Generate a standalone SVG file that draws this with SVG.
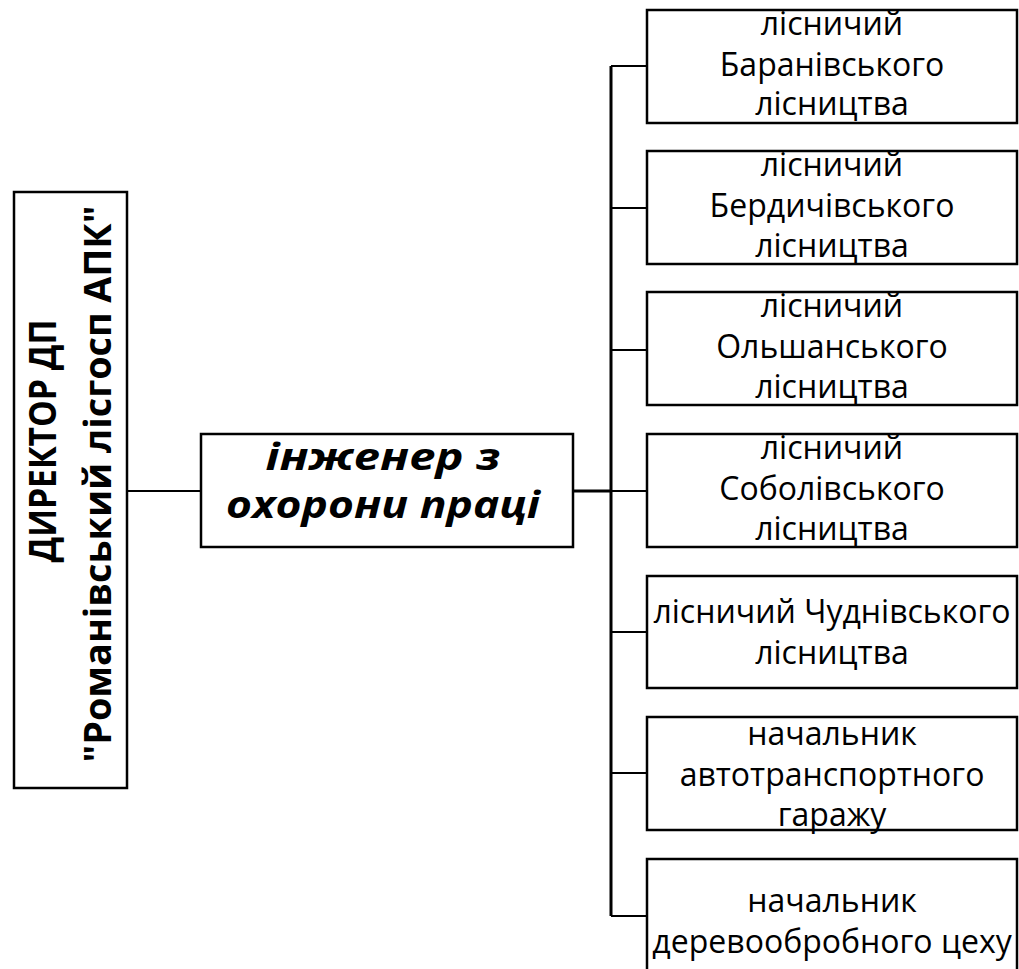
<svg xmlns="http://www.w3.org/2000/svg" width="1019" height="969" viewBox="0 0 1019 969">
<style>
.box{fill:#fff;stroke:#000;stroke-width:2.5}
.c{fill:none;stroke:#000;stroke-width:2}
.ct{fill:none;stroke:#000;stroke-width:3}
.t{font-family:"Open Sans","Noto Sans","DejaVu Sans",sans-serif;font-size:32px;text-anchor:middle;fill:#000}
.e{font-family:"Open Sans","Noto Sans","DejaVu Sans",sans-serif;font-size:37px;font-weight:bold;font-style:italic;text-anchor:middle;fill:#000}
.d{font-family:"Open Sans","Noto Sans","DejaVu Sans",sans-serif;font-size:37px;font-weight:bold;text-anchor:middle;fill:#000}
</style>
<rect width="1019" height="969" fill="#fff"/>
<g id="connectors">
<line class="c" x1="127" y1="491" x2="201" y2="491"/>
<line class="ct" x1="573" y1="491" x2="611" y2="491"/>
<line class="ct" x1="611" y1="66" x2="611" y2="916"/>
<line class="c" x1="611" y1="66" x2="647" y2="66"/>
<line class="c" x1="611" y1="208" x2="647" y2="208"/>
<line class="c" x1="611" y1="350" x2="647" y2="350"/>
<line class="c" x1="611" y1="491" x2="647" y2="491"/>
<line class="c" x1="611" y1="632" x2="647" y2="632"/>
<line class="c" x1="611" y1="773" x2="647" y2="773"/>
<line class="c" x1="611" y1="916" x2="647" y2="916"/>
</g>
<g id="director">
<rect class="box" x="14" y="192" width="113" height="596"/>
<text class="d" transform="translate(56,441) rotate(-90)" textLength="243" lengthAdjust="spacingAndGlyphs">ДИРЕКТОР ДП</text>
<text class="d" transform="translate(111,484) rotate(-90)" textLength="557" lengthAdjust="spacingAndGlyphs">"Романівський лісгосп АПК"</text>
</g>
<g id="engineer">
<rect class="box" x="201" y="434" width="372" height="113"/>
<text class="e" x="383" y="470" textLength="235" lengthAdjust="spacingAndGlyphs">інженер з</text>
<text class="e" x="383" y="518" textLength="314" lengthAdjust="spacingAndGlyphs">охорони праці</text>
</g>
<g id="n1">
<rect class="box" x="647" y="10" width="370" height="113"/>
<text class="t" x="832" y="35">лісничий</text>
<text class="t" x="832" y="76">Баранівського</text>
<text class="t" x="832" y="115">лісництва</text>
</g>
<g id="n2">
<rect class="box" x="647" y="151" width="370" height="113"/>
<text class="t" x="832" y="176">лісничий</text>
<text class="t" x="832" y="217">Бердичівського</text>
<text class="t" x="832" y="257">лісництва</text>
</g>
<g id="n3">
<rect class="box" x="647" y="292" width="370" height="113"/>
<text class="t" x="832" y="317">лісничий</text>
<text class="t" x="832" y="358">Ольшанського</text>
<text class="t" x="832" y="398">лісництва</text>
</g>
<g id="n4">
<rect class="box" x="647" y="434" width="370" height="113"/>
<text class="t" x="832" y="459">лісничий</text>
<text class="t" x="832" y="500">Соболівського</text>
<text class="t" x="832" y="540">лісництва</text>
</g>
<g id="n5">
<rect class="box" x="647" y="576" width="370" height="112"/>
<text class="t" x="832" y="623">лісничий Чуднівського</text>
<text class="t" x="832" y="664">лісництва</text>
</g>
<g id="n6">
<rect class="box" x="647" y="717" width="370" height="113"/>
<text class="t" x="832" y="745">начальник</text>
<text class="t" x="832" y="786">автотранспортного</text>
<text class="t" x="832" y="826">гаражу</text>
</g>
<g id="n7">
<rect class="box" x="647" y="859" width="370" height="125"/>
<text class="t" x="832" y="912">начальник</text>
<text class="t" x="832" y="953">деревообробного цеху</text>
</g>
</svg>
